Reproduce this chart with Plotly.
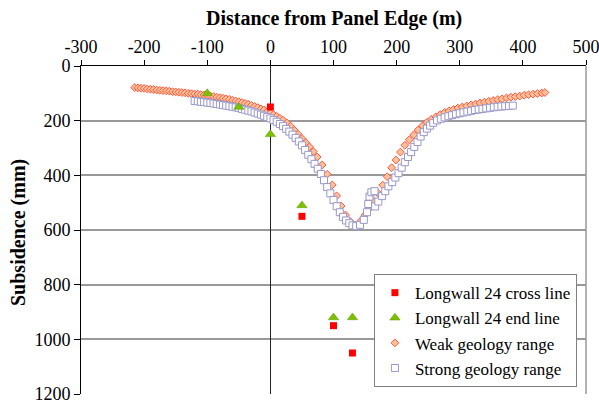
import plotly.graph_objects as go

# Measured points
cross_x = [0, 50, 100, 130]
cross_y = [150, 550, 950, 1050]
end_x = [-100, -50, 0, 50, 100, 130]
end_y = [100, 150, 250, 510, 920, 920]

# Weak geology range
weak_x = [-215, -210, -205, -200, -195, -190, -185, -180, -175, -170, -165, -160, -155, -150,
          -145, -140, -135, -130, -125, -120, -115, -110, -105, -100, -95, -90, -85, -80, -75,
          -70, -65, -60, -55, -50, -45, -40, -35, -30, -25, -20, -15, -10, -5, 0, 5, 10, 15,
          20, 26, 32, 38, 44, 50, 56, 62, 68, 74, 82, 90, 98, 105, 112, 119, 126, 132, 138,
          144, 150, 157, 164, 171, 178, 185, 192, 199, 206, 213, 220, 227, 234, 241, 248, 255,
          262, 269, 276, 283, 290, 297, 304, 311, 318, 325, 332, 339, 346, 353, 360, 367, 374,
          381, 388, 395, 402, 409, 416, 423, 430, 435]
weak_y = [79, 80, 81, 82, 84, 85, 86, 88, 89, 90, 91, 92, 94, 95,
          96, 97, 98, 100, 101, 102, 103, 105, 106, 108, 110, 112, 114, 116, 118,
          120, 122, 125, 128, 131, 134, 137, 140, 144, 148, 152, 157, 161, 166, 172, 178, 184, 191,
          198, 208, 220, 235, 250, 265, 280, 296, 313, 333, 362, 396, 435, 475, 512, 545, 568, 583, 582,
          565, 545, 520, 495, 466, 436, 405, 372, 344, 315, 290, 270, 252, 234, 219, 206, 195,
          186, 178, 170, 164, 159, 154, 150, 146, 142, 139, 135, 132, 129, 126, 123, 120, 117,
          114, 112, 110, 107, 105, 103, 101, 99, 97]

# Strong geology range
strong_x = [-120, -115, -110, -105, -100, -95, -90, -85, -80, -75, -70, -65, -60, -55, -50,
            -45, -40, -35, -30, -25, -20, -15, -10, -5, 0, 5, 10, 15, 20, 25, 30, 35, 40, 45,
            50, 55, 60, 65, 70, 75, 80, 85, 90, 95, 100, 105, 110, 115, 120, 125, 130, 136, 142,
            148, 153, 155, 157, 160, 165, 166, 171, 177, 182, 187, 193, 198, 203, 208, 213, 218,
            223, 228, 233, 238, 243, 248, 253, 258, 264, 270, 276, 282, 288, 294, 300, 306, 312,
            318, 324, 330, 336, 342, 348, 354, 360, 366, 372, 378, 384]
strong_y = [128, 129, 131, 132, 134, 135, 137, 139, 141, 143, 145, 147, 149, 151, 154,
            157, 160, 163, 166, 170, 174, 178, 182, 187, 192, 198, 204, 212, 220, 230, 240, 251, 263, 276,
            290, 307, 325, 341, 358, 376, 395, 418, 443, 466, 490, 513, 535, 552, 565, 575, 583, 586, 581,
            563, 535, 505, 478, 462, 458, 514, 496, 476, 458, 440, 425, 408, 392, 372, 352, 333,
            315, 296, 278, 258, 242, 229, 218, 208, 199, 193, 188, 184, 180, 176, 173, 170, 167,
            164, 161, 159, 157, 155, 153, 151, 149, 148, 147, 146, 145]

x_ticks = [-300, -200, -100, 0, 100, 200, 300, 400, 500]
y_ticks = [0, 200, 400, 600, 800, 1000, 1200]

FONT = "Liberation Serif"

fig = go.Figure()
fig.add_trace(go.Scatter(x=weak_x, y=weak_y, mode="markers", name="Weak geology range",
                         legendrank=3,
                         marker=dict(symbol="diamond", size=6, color="#FFC09A",
                                     line=dict(width=1, color="#FF5A40"))))
fig.add_trace(go.Scatter(x=strong_x, y=strong_y, mode="markers", name="Strong geology range",
                         legendrank=4,
                         marker=dict(symbol="square", size=7, color="white",
                                     line=dict(width=1, color="#9898C8"))))
fig.add_trace(go.Scatter(x=cross_x, y=cross_y, mode="markers", name="Longwall 24 cross line",
                         legendrank=1,
                         marker=dict(symbol="square", size=7, color="#FF0000",
                                     line=dict(width=0))))
fig.add_trace(go.Scatter(x=end_x, y=end_y, mode="markers", name="Longwall 24 end line",
                         legendrank=2,
                         marker=dict(symbol="triangle-up", size=9, color="#7CC000",
                                     line=dict(width=0.5, color="#5A9A00"))))

fig.add_shape(type="line", xref="paper", yref="paper", x0=1, x1=1, y0=0, y1=1,
              line=dict(color="#999999", width=1.5))

fig.add_annotation(text="<b>Distance from Panel Edge (m)</b>", xref="paper", yref="paper",
                   x=0.5, y=1, yshift=48, xanchor="center", yanchor="middle",
                   showarrow=False, font=dict(family=FONT, size=20, color="black"))
fig.add_annotation(text="<b>Subsidence (mm)</b>", xref="paper", yref="paper",
                   x=0, xshift=-63, y=0.5, yshift=-3, xanchor="center", yanchor="middle",
                   textangle=-90, showarrow=False,
                   font=dict(family=FONT, size=20, color="black"))

fig.update_layout(
    width=599, height=403,
    margin=dict(l=81, r=13, t=66, b=9),
    paper_bgcolor="white", plot_bgcolor="white",
    font=dict(family=FONT, size=18, color="black"),
    showlegend=True,
    legend=dict(x=0.982, xanchor="right", y=0.021, yanchor="bottom",
                bgcolor="white", bordercolor="#808080", borderwidth=1,
                font=dict(family=FONT, size=17), tracegroupgap=0,
                itemwidth=30),
    xaxis=dict(side="top", range=[-300, 500], tickvals=x_ticks,
               ticktext=[str(v) for v in x_ticks], automargin=False,
               ticklabeloverflow="allow",
               showgrid=False, zeroline=True, zerolinecolor="#222222", zerolinewidth=1,
               showline=True, linecolor="black", linewidth=1,
               ticks="outside", ticklen=5, tickcolor="black",
               tickfont=dict(family=FONT, size=18)),
    yaxis=dict(range=[1200, 0], tickvals=y_ticks, ticktext=[str(v) for v in y_ticks],
               automargin=False, ticklabeloverflow="allow",
               showgrid=True, gridcolor="#999999", gridwidth=1.5, zeroline=False,
               showline=True, linecolor="black", linewidth=1,
               ticks="outside", ticklen=6, tickcolor="black",
               tickfont=dict(family=FONT, size=18)),
)

fig.write_html("out.html", config={"displayModeBar": False},
               post_script="document.body.style.margin='0px';document.body.style.overflow='hidden';")
